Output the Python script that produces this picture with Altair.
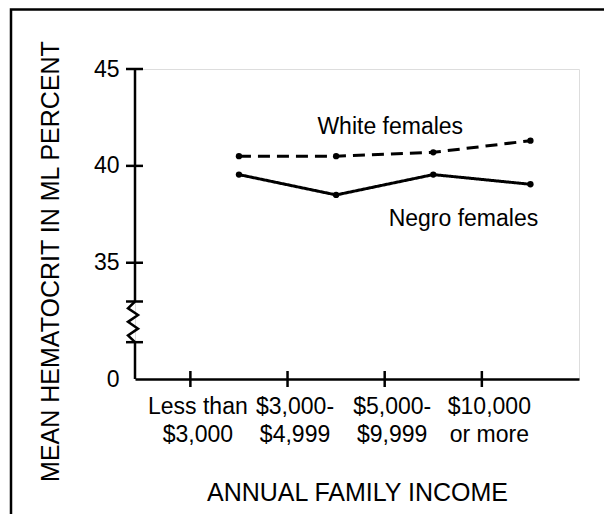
import json
import altair as alt
import pandas as pd

# ---- data ----
income_labels = [["Less than", "$3,000"], ["$3,000-", "$4,999"],
                 ["$5,000-", "$9,999"], ["$10,000", "or more"]]
series_names = ["White females", "Negro females"]
white_values = [40.5, 40.5, 40.7, 41.3]
negro_values = [39.55, 38.5, 39.55, 39.05]

y_tick_values = [29, 35, 40, 45]          # 29 stands in for the broken-axis "0"
y_tick_labels = ["0", "35", "40", "45"]
break_top, break_bottom = 33.0, 30.9       # ends of the axis break
x_tick_values = [0.5, 1.5, 2.5, 3.5]

# ---- layout ----
W, H = 444, 310
X_DOMAIN = [-0.07, 4.5]
Y_DOMAIN = [29, 45]
FONT = "Liberation Sans"
px_per_x = W / (X_DOMAIN[1] - X_DOMAIN[0])

rows = []
for name, vals in zip(series_names, [white_values, negro_values]):
    for i, v in enumerate(vals):
        rows.append({"series": name, "x": i + 1, "y": v})
df = pd.DataFrame(rows)

xs = alt.Scale(domain=X_DOMAIN, nice=False, zero=False)
ys = alt.Scale(domain=Y_DOMAIN, nice=False, zero=False)

x_label_expr = json.dumps(income_labels) + "[round(datum.value - 0.5)]"
y_label_expr = (json.dumps(y_tick_labels) + "[indexof(" +
                json.dumps(y_tick_values) + ", datum.value)]")

x_axis = alt.Axis(values=x_tick_values, labelExpr=x_label_expr, ticks=False,
                  grid=False, domain=True, domainColor="black", domainWidth=2.5,
                  labelFont=FONT, labelFontSize=23, labelColor="black",
                  labelLineHeight=28, labelBaseline="top", labelPadding=16,
                  labelOffset=7, labelFlush=False, labelOverlap=False,
                  labelBound=False,
                  title="ANNUAL FAMILY INCOME", titleFont=FONT, titleFontSize=25,
                  titleFontWeight="normal", titleColor="black",
                  titleY=121, titleBaseline="alphabetic")
y_axis = alt.Axis(values=y_tick_values, labelExpr=y_label_expr, ticks=False,
                  grid=False, domain=False,
                  labelFont=FONT, labelFontSize=23, labelColor="black",
                  labelPadding=16, labelFlush=False, labelOverlap=False,
                  labelBound=False,
                  title="MEAN HEMATOCRIT IN ML PERCENT", titleFont=FONT,
                  titleFontSize=25, titleFontWeight="normal", titleColor="black",
                  titleAngle=270, titleX=-85, titleY=192, titleAlign="center",
                  titleBaseline="middle")

X = alt.X("x:Q", scale=xs, axis=x_axis)
Y = alt.Y("y:Q", scale=ys, axis=y_axis)

lines = alt.Chart(df).mark_line(color="black", strokeWidth=3).encode(
    x=X, y=Y,
    detail="series:N",
    strokeDash=alt.StrokeDash("series:N", legend=None,
                              scale=alt.Scale(domain=series_names,
                                              range=[[12, 7], [1, 0]])),
)
points = alt.Chart(df).mark_circle(color="black", size=40, opacity=1).encode(
    x=X, y=Y)

# zigzag across the break
x0 = X_DOMAIN[0]
zz = [(x0, break_top)]
n_zig = 5
for k in range(1, n_zig + 1):
    t = k / (n_zig + 1)
    off = -7 if k % 2 == 1 else 3
    zz.append((x0 + off / px_per_x, break_top - t * (break_top - break_bottom)))
zz.append((x0, break_bottom))
zz_df = pd.DataFrame([{"x": a, "y": b, "i": i} for i, (a, b) in enumerate(zz)])
zigzag = alt.Chart(zz_df).mark_line(color="black", strokeWidth=2.5).encode(
    x=X, y=Y, order="i:Q")

ytick_df = pd.DataFrame({"y": [45, 40, 35, break_top, break_bottom]})
y_ticks = alt.Chart(ytick_df).mark_rule(color="black", strokeWidth=2.5).encode(
    y=Y, x=alt.value(-9), x2=alt.value(8))
xtick_df = pd.DataFrame({"x": x_tick_values})
x_ticks = alt.Chart(xtick_df).mark_rule(color="black", strokeWidth=2.5).encode(
    x=X, y=alt.value(H - 8), y2=alt.value(H + 8))

# straight parts of the y axis line, drawn last
seg_df = pd.DataFrame({"y": [Y_DOMAIN[1], break_bottom],
                       "y2": [break_top, Y_DOMAIN[0]]})
y_axis_segs = alt.Chart(seg_df).mark_rule(color="black", strokeWidth=2.5).encode(
    y=Y, y2="y2:Q", x=alt.value(0))

white_lab = alt.Chart(pd.DataFrame([{"x": 3, "y": white_values[2],
                                     "t": series_names[0]}])).mark_text(
    font=FONT, fontSize=23, color="black", align="center",
    baseline="alphabetic", dx=-43, dy=-18).encode(x=X, y=Y, text="t:N")
negro_lab = alt.Chart(pd.DataFrame([{"x": 4, "y": negro_values[3],
                                     "t": series_names[1]}])).mark_text(
    font=FONT, fontSize=23, color="black", align="center",
    baseline="alphabetic", dx=-67, dy=42).encode(x=X, y=Y, text="t:N")

frame = alt.Chart(alt.Data(values=[{}])).mark_rect(
    filled=False, stroke="black", strokeWidth=2.5).encode(
    x=alt.value(-124), x2=alt.value(W + 200),
    y=alt.value(-59.5), y2=alt.value(H + 300),
)

chart = alt.layer(frame, lines, points, zigzag, y_ticks, x_ticks,
                  white_lab, negro_lab, y_axis_segs).properties(
    width=W, height=H,
    padding={"left": 127, "top": 61, "right": 25, "bottom": 135},
    autosize=alt.AutoSizeParams(type="none"),
).configure_view(strokeWidth=0).configure(font=FONT)

chart.save("out.html", embed_options={"renderer": "svg", "actions": False})
